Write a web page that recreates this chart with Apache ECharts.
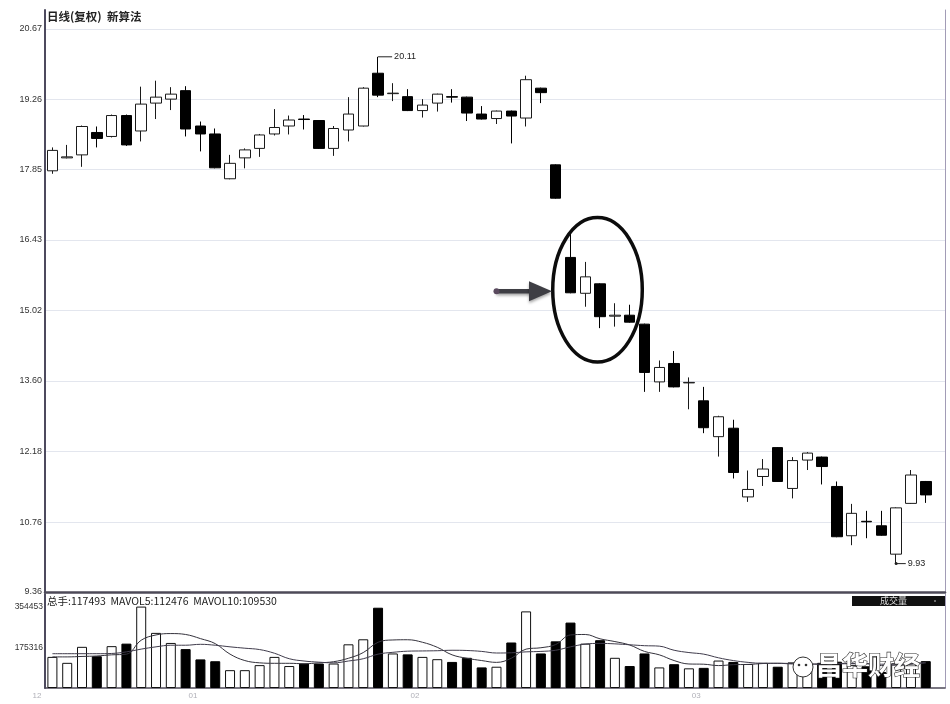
<!DOCTYPE html>
<html><head><meta charset="utf-8">
<script src="https://cdn.jsdelivr.net/npm/echarts@6/dist/echarts.min.js"></script>
<style>html,body{margin:0;padding:0;background:#fff}#c{width:950px;height:704px}</style>
</head><body><div id="c"></div>
<script>
// ---- data ----
const opens  = [17.82,18.08,18.14,18.59,18.51,18.93,18.62,19.18,19.26,19.43,
                18.72,18.56,17.66,18.08,18.27,18.56,18.72,18.86,18.83,18.27,
                18.64,18.72,19.78,19.37,19.31,19.03,19.18,19.31,19.30,18.96,
                18.87,19.02,18.88,19.48,17.94,16.08,15.36,15.55,14.90,14.92,
                14.74,13.58,13.95,13.56,13.20,12.48,12.65,11.27,11.68,12.26,
                11.44,12.01,12.07,11.48,10.49,10.78,10.69,10.12,11.14,11.58];
const closes = [18.23,18.10,18.71,18.47,18.93,18.34,19.16,19.30,19.36,18.66,
                18.56,17.88,17.97,18.24,18.54,18.69,18.84,18.85,18.27,18.67,
                18.96,19.48,19.34,19.38,19.03,19.14,19.36,19.30,18.98,18.86,
                19.02,18.92,19.65,19.39,17.27,15.37,15.69,14.89,14.92,14.78,
                13.77,13.87,13.48,13.57,12.66,12.88,11.76,11.42,11.83,11.58,
                12.00,12.15,11.88,10.47,10.94,10.77,10.50,11.05,11.71,11.31];
const lows   = [17.76,18.07,17.90,18.29,18.49,18.32,18.41,18.86,19.04,18.51,
                18.21,17.87,17.65,17.87,18.10,18.53,18.55,18.65,18.26,18.12,
                18.41,18.71,19.30,19.22,19.02,18.89,19.01,19.19,18.82,18.85,
                18.76,18.37,18.71,19.18,17.26,15.36,15.09,14.66,14.69,14.77,
                13.38,13.38,13.47,13.03,12.55,12.08,11.64,11.17,11.49,11.57,
                11.24,11.81,11.52,10.46,10.30,10.44,10.49,9.93,11.13,11.15];
const highs  = [18.29,18.34,18.73,18.71,18.95,18.95,19.51,19.63,19.50,19.52,
                18.81,18.67,18.14,18.27,18.56,19.06,18.93,18.94,18.84,18.72,
                19.30,19.50,20.11,19.58,19.46,19.26,19.37,19.46,19.31,19.12,
                19.03,19.03,19.73,19.49,17.95,16.60,15.99,15.56,15.16,15.13,
                14.75,14.01,14.20,13.67,13.48,12.90,12.82,11.80,12.03,12.27,
                12.07,12.17,12.08,11.58,11.13,10.99,10.99,11.06,11.81,11.59];
const volumes = [136000,110000,180000,139000,183000,194000,356000,241000,197000,170000,
                 125000,117000,78000,78000,100000,136000,96000,107000,107000,107000,
                 191000,213000,351000,151000,147000,136000,126000,114000,132000,90000,
                 93000,199000,335000,151000,204000,286000,194000,209000,132000,96000,
                 151000,90000,104000,86000,88000,120000,114000,105000,110000,93000,
                 112000,105000,110000,115000,100000,95000,70000,108000,112000,117493];
const mavol5 = [136000,136000,138000,140000,145000,148000,209000,232000,238000,234000,
                216000,194000,148000,120000,110000,108000,108000,106000,110000,115000,
                130000,155000,200000,210000,211000,200000,178000,145000,130000,120000,
                112000,130000,170000,176000,190000,232000,234000,215000,203000,188000,
                160000,145000,120000,105000,104000,98000,102000,103000,107000,108000,
                107000,105000,105000,107000,108000,107000,98000,100000,104000,112476];
const mavol10 = [150000,150000,150000,150000,151000,158000,170000,180000,187000,187000,
                 191000,187000,180000,174000,168000,152000,128000,118000,113000,110000,
                 118000,128000,148000,156000,161000,162000,163000,165000,164000,160000,
                 153000,154000,158000,160000,165000,180000,192000,195000,193000,189000,
                 185000,183000,165000,155000,148000,132000,120000,112000,108000,108000,
                 105000,104000,104000,106000,106000,106000,104000,104000,106000,109530];
const priceTicks = [9.36,10.76,12.18,13.60,15.02,16.43,17.85,19.26,20.67];
const priceTickLabels = ['9.36','10.76','12.18','13.60','15.02','16.43','17.85','19.26','20.67'];
const volTicks = [175316,354453];
const volTickLabels = ['175316','354453'];
const monthLabels = ['12','01','02','03'];
const monthStart = [0,10,25,44];
const titleText = '日线(复权)  新算法';
const volLegendText = '总手:117493  MAVOL5:112476  MAVOL10:109530';
const volBadgeText = '成交量';
const watermarkText = '昌华财经';
// annotation regions (data coordinates)
const noteEllipseX = [33.8, 39.85];
const noteEllipseY = [13.98, 16.88];
const arrowFromPt = [30.0, 15.40];
const arrowToPt = [33.75, 15.40];

// ---- chart ----
const N = opens.length;
const chart = echarts.init(document.getElementById('c'), null, {renderer:'canvas'});
const candleData = opens.map((o,i)=>[i,o,closes[i],lows[i],highs[i]]);
const volData = volumes.map((v,i)=>({
  value:[i,v],
  itemStyle: closes[i]>=opens[i] ? {color:'#fff',borderColor:'#111',borderWidth:1}
                                 : {color:'#000',borderColor:'#000',borderWidth:1}
}));
let iHi=0, iLo=0;
highs.forEach((h,i)=>{ if(h>highs[iHi]) iHi=i; });
lows.forEach((l,i)=>{ if(l<lows[iLo]) iLo=i; });
const labelOf = (vals, labs) => v => { let k=0,b=1e18; vals.forEach((t,j)=>{const d=Math.abs(t-v); if(d<b){b=d;k=j;}}); return labs[k]; };

const FONT = '"Liberation Sans", "DejaVu Sans", sans-serif';
const CJK = '"Noto Sans CJK SC", sans-serif';
const axisCommonX = {type:'value', min:-0.5, max:N+0.3, splitLine:{show:false}, axisTick:{show:false}};

const option = {
  animation:false,
  backgroundColor:'#fff',
  grid:[
    {left:45, top:10, width:900, height:582},
    {left:45, top:594, width:900, height:94}
  ],
  xAxis:[
    Object.assign({gridIndex:0, axisLabel:{show:false},
      axisLine:{show:true, onZero:false, lineStyle:{color:'#4d4a58', width:2.5}}}, axisCommonX),
    Object.assign({gridIndex:1,
      axisLine:{show:true, onZero:false, lineStyle:{color:'#4d4a58', width:1.5}},
      axisLabel:{show:true, customValues: monthStart.map(i=>i-0.5), margin:4, fontSize:8, color:'#b0b0b8', fontFamily:FONT,
        formatter:(v)=>{ const k = monthStart.indexOf(Math.round(v+0.5)); return k===0 ? '{a|'+monthLabels[k]+'}' : monthLabels[k]; },
        rich:{a:{fontSize:8,color:'#b0b0b8',padding:[0,16,0,0]}}}}, axisCommonX)
  ],
  yAxis:[
    {gridIndex:0, type:'value', min:9.36, max:21.05, position:'left',
     axisLine:{show:true, onZero:false, lineStyle:{color:'#4d4a5e', width:2}},
     axisTick:{show:false, customValues:priceTicks},
     axisLabel:{customValues:priceTicks, formatter:labelOf(priceTicks,priceTickLabels), fontSize:9, color:'#333', margin:3, fontFamily:FONT},
     splitLine:{show:true, lineStyle:{color:'#e3e6ee', width:1}}},
    {gridIndex:1, type:'value', min:0, max:411000, position:'left',
     axisLine:{show:true, onZero:false, lineStyle:{color:'#4d4a5e', width:2}},
     axisTick:{show:false, customValues:volTicks},
     axisLabel:{customValues:volTicks, formatter:labelOf(volTicks,volTickLabels), fontSize:8.5, color:'#333', margin:2, fontFamily:FONT},
     splitLine:{show:false}},
    {gridIndex:0, type:'value', min:9.36, max:21.05, position:'right',
     axisLine:{show:true, onZero:false, lineStyle:{color:'#a29cb6', width:1}}, axisTick:{show:false}, axisLabel:{show:false}, splitLine:{show:false}},
    {gridIndex:1, type:'value', min:0, max:411000, position:'right',
     axisLine:{show:true, onZero:false, lineStyle:{color:'#a29cb6', width:1}}, axisTick:{show:false}, axisLabel:{show:false}, splitLine:{show:false}}
  ],
  series:[
    {type:'candlestick', name:'K', xAxisIndex:0, yAxisIndex:0, data:candleData, encode:{x:0, y:[1,2,3,4]},
     barWidth:11,
     itemStyle:{color:'#fff', color0:'#000', borderColor:'#1a1a1a', borderColor0:'#000', borderColorDoji:'#1a1a1a', borderWidth:1}},
    {type:'bar', name:'VOL', xAxisIndex:1, yAxisIndex:1, data:volData, barWidth:10},
    {type:'line', name:'MAVOL5', xAxisIndex:1, yAxisIndex:1, data:mavol5.map((v,i)=>[i,v]), symbol:'none', smooth:0.4,
     lineStyle:{color:'#34323c', width:1}, z:5},
    {type:'line', name:'MAVOL10', xAxisIndex:1, yAxisIndex:1, data:mavol10.map((v,i)=>[i,v]), symbol:'none', smooth:0.4,
     lineStyle:{color:'#403c4c', width:1}, z:5},
    {type:'line', name:'hiNote', xAxisIndex:0, yAxisIndex:0, data:[[iHi,highs[iHi]],[iHi+0.95,highs[iHi]]], symbol:'none',
     lineStyle:{color:'#222', width:1},
     endLabel:{show:true, formatter:highs[iHi].toFixed(2), fontSize:9, color:'#222', distance:2, fontFamily:FONT}},
    {type:'line', name:'loNote', xAxisIndex:0, yAxisIndex:0,
     data:[{value:[iLo,lows[iLo]], symbol:'circle', symbolSize:3},[iLo+0.65,lows[iLo]]], symbol:'none', showSymbol:true,
     itemStyle:{color:'#222'},
     lineStyle:{color:'#222', width:1},
     endLabel:{show:true, formatter:lows[iLo].toFixed(2), fontSize:9, color:'#222', distance:2, fontFamily:FONT}}
  ]
};
chart.setOption(option);

// annotations positioned through the chart's own scales
const px = p => chart.convertToPixel({gridIndex:0}, p);
const e0 = px([noteEllipseX[0], noteEllipseY[1]]);
const e1 = px([noteEllipseX[1], noteEllipseY[0]]);
const a0 = px(arrowFromPt);
const a1 = px(arrowToPt);
const headLen = 23, headHalf = 10;
const shadow = {shadowBlur:3, shadowColor:'rgba(0,0,0,0.35)', shadowOffsetY:2};
chart.setOption({graphic:[
  {id:'title', type:'text', left:47, top:11, style:{text:titleText, fontSize:11.5, fontWeight:'bold', fill:'#222', fontFamily:CJK}},
  {id:'vlegend', type:'text', left:47, top:596, style:{text:volLegendText, fontSize:10.5, fill:'#222', fontFamily:CJK}},
  {id:'badgeBg', type:'rect', shape:{x:852, y:596, width:93, height:10}, style:{fill:'#111'}},
  {id:'badgeTx', type:'text', x:880, y:596, style:{text:volBadgeText, fontSize:9, fill:'#ddd', fontFamily:CJK}},
  {id:'badgeDot', type:'circle', shape:{cx:935, cy:601, r:1}, style:{fill:'#888'}},
  {id:'ellipse', type:'ellipse', z:100, shape:{cx:(e0[0]+e1[0])/2, cy:(e0[1]+e1[1])/2, rx:(e1[0]-e0[0])/2, ry:(e1[1]-e0[1])/2},
   style:{fill:'none', stroke:'#0c0c0c', lineWidth:3.5}},
  {id:'arrowShaft', type:'line', z:100, shape:{x1:a0[0], y1:a0[1], x2:a1[0]-headLen+2, y2:a1[1]},
   style:Object.assign({stroke:'#3e3e44', lineWidth:4.5}, shadow)},
  {id:'arrowHead', type:'polygon', z:100, shape:{points:[[a1[0]-headLen,a1[1]-headHalf],[a1[0],a1[1]],[a1[0]-headLen,a1[1]+headHalf]]},
   style:Object.assign({fill:'#3e3e44'}, shadow)},
  {id:'arrowDot', type:'circle', z:101, shape:{cx:a0[0], cy:a0[1], r:3}, style:{fill:'#5a4a5e'}},
  {id:'wmIcon', type:'circle', z:100, shape:{cx:803, cy:667, r:10}, style:{fill:'#fff', stroke:'#333', lineWidth:1}},
  {id:'wmEye1', type:'circle', z:101, shape:{cx:799, cy:665, r:1.3}, style:{fill:'#333'}},
  {id:'wmEye2', type:'circle', z:101, shape:{cx:806, cy:665, r:1.3}, style:{fill:'#333'}},
  {id:'wmText', type:'text', z:100, x:816, y:652, style:{text:watermarkText, fontSize:26, fontWeight:'bold', fill:'#fff', stroke:'#2a2a2a', lineWidth:1.2, fontFamily:CJK}}
]});
</script>
</body></html>
